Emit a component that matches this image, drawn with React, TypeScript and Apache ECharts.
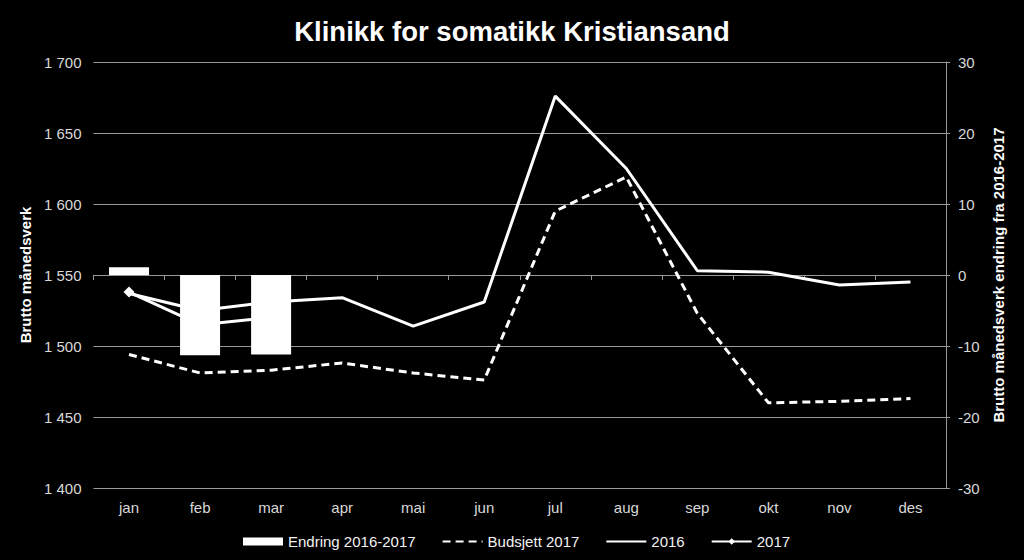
import React, { useEffect, useRef } from "react";
import * as echarts from "echarts";

const categories = ["jan", "feb", "mar", "apr", "mai", "jun", "jul", "aug", "sep", "okt", "nov", "des"];
const endring = [1.1, -11.3, -11.2, null, null, null, null, null, null, null, null, null];
const budsjett2017 = [1494, 1481, 1483, 1488, 1481, 1476, 1595, 1619, 1523, 1460, 1461, 1463];
const values2016 = [1537, 1525, 1531, 1534, 1514, 1531, 1676, 1625, 1553, 1552, 1543, 1545];
const values2017 = [1538, 1515, 1520, null, null, null, null, null, null, null, null, null];

const fmt = (v: number) => {
  const s = String(Math.abs(v));
  const out = s.replace(/\B(?=(\d{3})+(?!\d))/g, " ");
  return (v < 0 ? "-" : "") + out;
};

export default function App() {
  const ref = useRef<HTMLDivElement>(null);
  useEffect(() => {
    if (!ref.current) return;
    const chart = echarts.init(ref.current, undefined, { renderer: "svg" });
    const font = "'Liberation Sans', Arial, sans-serif";
    const grid = "#999999";
    const hidden = { color: "rgba(0,0,0,0)", borderColor: "rgba(0,0,0,0)", borderWidth: 0 };
    chart.setOption({
      animation: false,
      backgroundColor: "#000000",
      textStyle: { fontFamily: font },
      title: {
        text: "Klinikk for somatikk Kristiansand",
        left: "center",
        top: 12,
        textStyle: { color: "#ffffff", fontSize: 27.5, fontWeight: "bold", fontFamily: font },
      },
      grid: { left: 93.5, right: 78, top: 62, bottom: 72, containLabel: false },
      legend: {
        left: 238,
        top: 529,
        itemWidth: 40,
        itemHeight: 8,
        itemGap: 26,
        textStyle: { color: "#f2f2f2", fontSize: 15, fontFamily: font },
        data: [
          { name: "Endring 2016-2017", icon: "rect" },
          { name: "Budsjett 2017", itemStyle: hidden },
          { name: "2016", itemStyle: hidden },
          { name: "2017" },
        ],
      },
      xAxis: [
        {
          type: "category",
          data: categories,
          position: "bottom",
          axisLine: { show: false },
          axisTick: { show: false },
          axisLabel: { color: "#d9d9d9", fontSize: 15, margin: 12, fontFamily: font },
        },
        {
          type: "category",
          data: categories,
          position: "bottom",
          axisLine: { show: true, onZero: true, onZeroAxisIndex: 1, lineStyle: { color: grid, width: 1 } },
          axisTick: { show: true, length: 5, lineStyle: { color: grid } },
          axisLabel: { show: false },
        },
      ],
      yAxis: [
        {
          type: "value",
          min: 1400,
          max: 1700,
          interval: 50,
          position: "left",
          name: "Brutto månedsverk",
          nameLocation: "middle",
          nameRotate: 90,
          nameGap: 58,
          nameTextStyle: { color: "#ffffff", fontSize: 15, fontWeight: "bold", fontFamily: font },
          axisLine: { show: false },
          axisTick: { show: false },
          splitLine: { show: true, lineStyle: { color: grid, width: 1 } },
          axisLabel: { color: "#d9d9d9", fontSize: 15, margin: 12, formatter: fmt, fontFamily: font },
        },
        {
          type: "value",
          min: -30,
          max: 30,
          interval: 10,
          position: "right",
          name: "Brutto månedsverk endring fra 2016-2017",
          nameLocation: "middle",
          nameRotate: 90,
          nameGap: 41,
          nameTextStyle: { color: "#ffffff", fontSize: 15, fontWeight: "bold", fontFamily: font },
          axisLine: { show: true, lineStyle: { color: grid, width: 1 } },
          axisTick: { show: true, length: 4, inside: false, lineStyle: { color: grid } },
          splitLine: { show: false },
          axisLabel: { color: "#d9d9d9", fontSize: 15, margin: 12, fontFamily: font },
        },
      ],
      series: [
        {
          name: "Endring 2016-2017",
          type: "bar",
          xAxisIndex: 0,
          yAxisIndex: 1,
          data: endring,
          barWidth: 40,
          z: 5,
          itemStyle: { color: "#ffffff" },
        },
        {
          name: "Budsjett 2017",
          type: "line",
          xAxisIndex: 0,
          yAxisIndex: 0,
          data: budsjett2017,
          symbol: "none",
          z: 3,
          lineStyle: { color: "#ffffff", width: 3, type: [8, 5] },
          itemStyle: { color: "#ffffff" },
        },
        {
          name: "2016",
          type: "line",
          xAxisIndex: 0,
          yAxisIndex: 0,
          data: values2016,
          symbol: "none",
          z: 3,
          lineStyle: { color: "#ffffff", width: 3 },
          itemStyle: { color: "#ffffff" },
        },
        {
          name: "2017",
          type: "line",
          xAxisIndex: 0,
          yAxisIndex: 0,
          data: values2017,
          symbol: "diamond",
          symbolSize: 11,
          showSymbol: true,
          z: 3,
          lineStyle: { color: "#ffffff", width: 3 },
          itemStyle: { color: "#ffffff" },
        },
      ],
    });
    return () => chart.dispose();
  }, []);
  return (
    <div
      ref={ref}
      style={{ position: "fixed", left: 0, top: 0, width: 1024, height: 560, background: "#000" }}
    />
  );
}
